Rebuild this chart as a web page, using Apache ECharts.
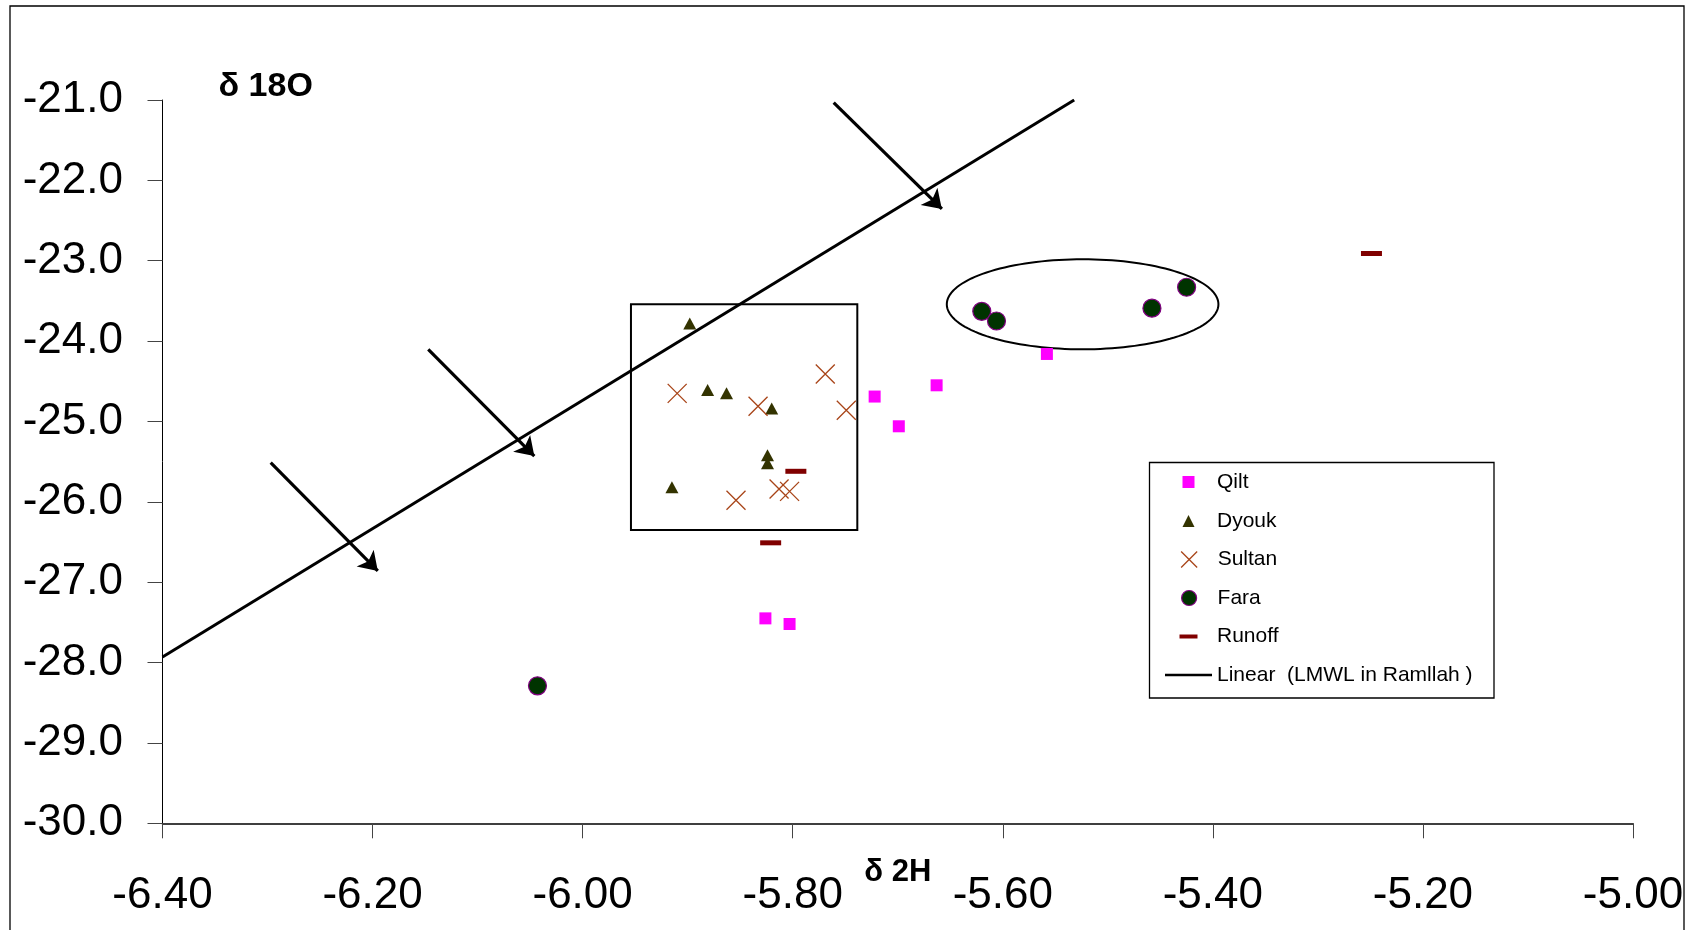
<!DOCTYPE html>
<html><head><meta charset="utf-8">
<script src="https://cdn.jsdelivr.net/npm/echarts@6/dist/echarts.min.js"></script>
<style>html,body{margin:0;padding:0;background:#fff}#c{width:1701px;height:930px}</style>
</head><body><div id="c"></div>
<script>
// ---- data ----
const qiltX = [-5.722, -5.699, -5.663, -5.558, -5.826, -5.803];
const qiltY = [-24.69, -25.06, -24.55, -24.16, -27.45, -27.52];
const dyoukX = [-5.898, -5.881, -5.863, -5.820, -5.824, -5.824, -5.915];
const dyoukY = [-23.78, -24.61, -24.65, -24.84, -25.42, -25.52, -25.82];
const sultanX = [-5.910, -5.833, -5.769, -5.749, -5.854, -5.813, -5.803];
const sultanY = [-24.65, -24.81, -24.41, -24.86, -25.98, -25.84, -25.87];
const faraX = [-5.620, -5.606, -5.458, -5.425, -6.043];
const faraY = [-23.63, -23.75, -23.59, -23.33, -28.29];
const runoffX = [-5.797, -5.821, -5.249];
const runoffY = [-25.62, -26.51, -22.91];
const lmwlX = [-6.4, -5.532];
const lmwlY = [-27.93, -21.0];
// annotations (in data units)
const arrowStart = [[-5.761, -21.034], [-6.147, -24.102], [-6.297, -25.513]];
const arrowEnd = [[-5.658, -22.356], [-6.046, -25.431], [-6.195, -26.860]];
const boxCorners = [-5.954, -23.542, -5.7385, -26.350];
const ellipseCenter = [-5.524, -23.542];
const ellipseRadius = [0.1293, 0.560];
const seriesNames = ['Qilt', 'Dyouk', 'Sultan', 'Fara', 'Runoff', 'Linear  (LMWL in Ramllah )'];

const zip = (xs, ys) => xs.map((x, i) => [x, ys[i]]);
const FONT = 'Liberation Sans, Arial, sans-serif';

const chart = echarts.init(document.getElementById('c'), null, {renderer: 'canvas'});

// legend rows: icon, icon height, icon drawn width, row centre
const legendIcons = [
  {icon: 'path://M0,0L10,0L10,10L0,10Z', h: 12, w: 12, cy: 482, bw: 0},
  {icon: 'path://M5,0L10,10L0,10Z', h: 12, w: 12, cy: 521, bw: 0},
  {icon: 'path://M0,0L10,10M10,0L0,10', h: 16, w: 16, cy: 559.5, bw: 1.3},
  {icon: 'path://M0,5A5,5,0,1,1,10,5A5,5,0,1,1,0,5Z', h: 15, w: 15, cy: 598, bw: 1.2},
  {icon: 'path://M0,0L18,0L18,4L0,4Z', h: 4, w: 18, cy: 636.5, bw: 0},
  {icon: 'rect', h: 2.6, w: 47, cy: 675, bw: 0}
];
const legends = legendIcons.map((li, i) => {
  const item = {name: seriesNames[i], icon: li.icon, itemStyle: {borderWidth: li.bw}};
  return {
    data: [item], orient: 'vertical', left: 1188.5 - li.w / 2, top: li.cy - 12, padding: 0,
    itemWidth: 47, itemHeight: li.h, selectedMode: false,
    textStyle: {fontFamily: FONT, fontSize: 21, lineHeight: 24, color: '#000'}
  };
});

const option = {
  animation: false,
  backgroundColor: '#fff',
  grid: {left: 162.5, right: 68, top: 100, bottom: 106.7, outerBoundsMode: 'none'},
  legend: legends,
  graphic: [
    {type: 'rect', shape: {x: 10, y: 6, width: 1674, height: 1000}, style: {fill: 'none', stroke: '#000', lineWidth: 1.3}, silent: true, z: -1},
    {type: 'rect', shape: {x: 1149.5, y: 462.5, width: 344.5, height: 235.5}, style: {fill: 'none', stroke: '#000', lineWidth: 1.3}, silent: true}
  ],
  xAxis: {
    type: 'value', min: -6.4, max: -5.0, interval: 0.2,
    name: 'δ 2H', nameLocation: 'middle', nameGap: 32, nameMoveOverlap: false,
    nameTextStyle: {fontFamily: FONT, fontWeight: 'bold', fontSize: 31, color: '#000', lineHeight: 34},
    axisLine: {onZero: false, lineStyle: {color: '#000', width: 1.5}},
    axisTick: {show: true, inside: false, length: 15, lineStyle: {color: '#444', width: 1}},
    axisLabel: {fontFamily: FONT, fontSize: 44, color: '#000', margin: 51, formatter: v => v.toFixed(2)},
    splitLine: {show: false}
  },
  yAxis: {
    type: 'value', min: -30, max: -21, interval: 1,
    name: 'δ 18O', nameLocation: 'end', nameGap: -3.5, nameMoveOverlap: false,
    nameTextStyle: {fontFamily: FONT, fontWeight: 'bold', fontSize: 34, color: '#000', lineHeight: 34, align: 'left', padding: [0, 0, 0, 56]},
    axisLine: {onZero: false, lineStyle: {color: '#000', width: 1}},
    axisTick: {show: true, inside: false, length: 15, lineStyle: {color: '#444', width: 1}},
    axisLabel: {fontFamily: FONT, fontSize: 44, color: '#000', margin: 39.5, padding: [6, 0, 0, 0], formatter: v => v.toFixed(1)},
    splitLine: {show: false}
  },
  series: [
    {name: seriesNames[5], type: 'line', data: zip(lmwlX, lmwlY), symbol: 'none', z: 2,
      lineStyle: {color: '#000', width: 3}, itemStyle: {color: '#000'}},
    {name: 'annotBox', type: 'custom', z: 3, silent: true, clip: false,
      renderItem: (params, api) => {
        const p1 = api.coord([api.value(0), api.value(1)]);
        const p2 = api.coord([api.value(2), api.value(3)]);
        return {type: 'rect', shape: {x: Math.min(p1[0], p2[0]), y: Math.min(p1[1], p2[1]), width: Math.abs(p2[0] - p1[0]), height: Math.abs(p2[1] - p1[1])},
          style: {fill: 'none', stroke: '#000', lineWidth: 2}};
      },
      data: [boxCorners]},
    {name: 'annotEllipse', type: 'custom', z: 3, silent: true, clip: false,
      renderItem: (params, api) => {
        const c = api.coord([api.value(0), api.value(1)]);
        const e = api.coord([api.value(0) + api.value(2), api.value(1) - api.value(3)]);
        const rx = Math.abs(e[0] - c[0]), ry = Math.abs(e[1] - c[1]);
        const pts = [];
        for (let k = 0; k < 144; k++) { const t = k / 144 * Math.PI * 2; pts.push([c[0] + rx * Math.cos(t), c[1] + ry * Math.sin(t)]); }
        return {type: 'polygon', shape: {points: pts}, style: {fill: 'none', stroke: '#000', lineWidth: 2}};
      },
      data: [[ellipseCenter[0], ellipseCenter[1], ellipseRadius[0], ellipseRadius[1]]]},
    {name: 'annotArrows', type: 'lines', coordinateSystem: 'cartesian2d', z: 3, silent: true,
      symbol: ['none', 'arrow'], symbolSize: [15, 18],
      lineStyle: {color: '#000', width: 3.2, opacity: 1},
      data: arrowStart.map((s, i) => ({coords: [s, arrowEnd[i]]}))},
    {name: seriesNames[0], type: 'scatter', z: 5, data: zip(qiltX, qiltY), symbol: 'rect', symbolSize: 12,
      itemStyle: {color: '#FF00FF', borderWidth: 0, opacity: 1}},
    {name: seriesNames[1], type: 'scatter', z: 5, data: zip(dyoukX, dyoukY), symbol: 'triangle', symbolSize: [13, 12],
      itemStyle: {color: '#333300', borderWidth: 0, opacity: 1}},
    {name: seriesNames[2], type: 'scatter', z: 5, data: zip(sultanX, sultanY), symbol: 'path://M0,0L10,10M10,0L0,10', symbolSize: 19,
      itemStyle: {color: 'rgba(0,0,0,0)', borderColor: '#A84418', borderWidth: 1.3, opacity: 1}},
    {name: seriesNames[3], type: 'scatter', z: 5, data: zip(faraX, faraY), symbol: 'circle', symbolSize: 18,
      itemStyle: {color: '#003300', borderColor: '#800080', borderWidth: 1.2, opacity: 1}},
    {name: seriesNames[4], type: 'scatter', z: 5, data: zip(runoffX, runoffY), symbol: 'rect', symbolSize: [21, 5],
      itemStyle: {color: '#800000', borderWidth: 0, opacity: 1}}
  ]
};
chart.setOption(option);
</script>
</body></html>
